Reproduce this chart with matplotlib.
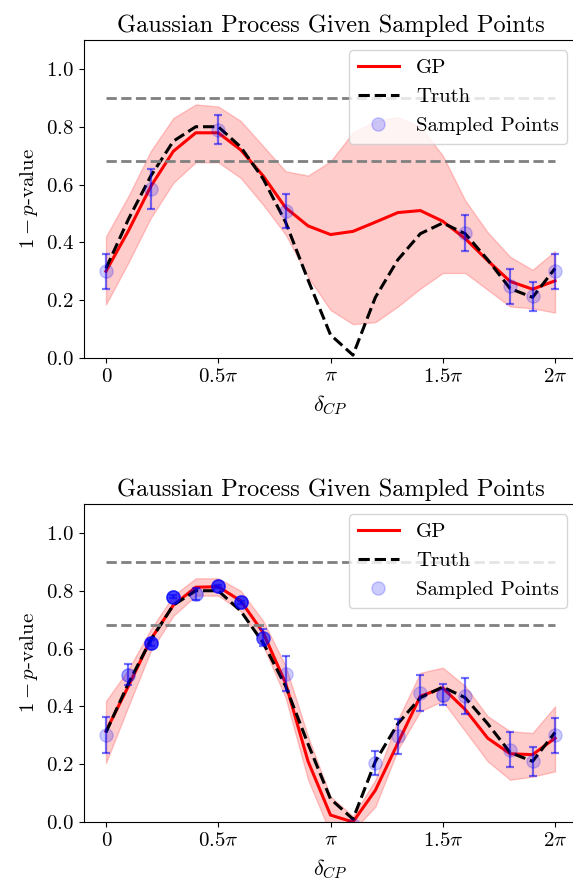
import numpy as np
import matplotlib
matplotlib.use("Agg")
import matplotlib.pyplot as plt

plt.rcParams['font.family'] = 'serif'
plt.rcParams['font.serif'] = ['cmr10']
plt.rcParams['mathtext.fontset'] = 'cm'
plt.rcParams['axes.unicode_minus'] = False
plt.rcParams['axes.formatter.use_mathtext'] = True

# grid of delta_CP in units of pi (0, 0.1, ..., 2.0)
grid = np.arange(21) / 10

truth = [0.31, 0.48, 0.63, 0.75, 0.80, 0.80, 0.73, 0.62, 0.47, 0.27, 0.08,
         0.01, 0.21, 0.34, 0.43, 0.467, 0.43, 0.34, 0.24, 0.21, 0.31]

# top panel: few samples
gp1 = [0.30, 0.44, 0.594, 0.715, 0.779, 0.779, 0.72, 0.63, 0.52, 0.457, 0.427,
       0.438, 0.47, 0.503, 0.51, 0.473, 0.413, 0.337, 0.265, 0.238, 0.267]
up1 = [0.42, 0.56, 0.716, 0.83, 0.877, 0.87, 0.82, 0.733, 0.646, 0.631, 0.68,
       0.78, 0.82, 0.833, 0.80, 0.70, 0.545, 0.435, 0.35, 0.305, 0.37]
lo1 = [0.185, 0.33, 0.485, 0.606, 0.677, 0.677, 0.623, 0.53, 0.427, 0.28, 0.166,
       0.117, 0.124, 0.178, 0.24, 0.294, 0.294, 0.236, 0.178, 0.172, 0.157]
sx1 = [0.0, 0.2, 0.5, 0.8, 1.6, 1.8, 1.9, 2.0]
sy1 = [0.30, 0.585, 0.79, 0.508, 0.433, 0.248, 0.213, 0.30]
se1 = [0.06, 0.07, 0.05, 0.06, 0.062, 0.06, 0.05, 0.06]
sn1 = [1, 1, 1, 1, 1, 1, 1, 1]

# bottom panel: more samples
gp2 = [0.314, 0.47, 0.632, 0.75, 0.812, 0.814, 0.765, 0.655, 0.48, 0.21, 0.024,
       0.0, 0.11, 0.273, 0.435, 0.464, 0.389, 0.29, 0.236, 0.233, 0.29]
up2 = [0.418, 0.528, 0.667, 0.783, 0.843, 0.843, 0.80, 0.696, 0.54, 0.296, 0.088,
       0.02, 0.146, 0.354, 0.516, 0.534, 0.47, 0.366, 0.314, 0.308, 0.40]
lo2 = [0.204, 0.40, 0.592, 0.713, 0.783, 0.783, 0.73, 0.61, 0.43, 0.146, -0.04,
       -0.03, 0.053, 0.25, 0.383, 0.418, 0.314, 0.21, 0.146, 0.157, 0.175]
sx2 = [0.0, 0.1, 0.2, 0.3, 0.4, 0.5, 0.6, 0.7, 0.8, 1.1, 1.2, 1.3, 1.4, 1.5, 1.6, 1.8, 1.9, 2.0]
sy2 = [0.302, 0.51, 0.62, 0.78, 0.789, 0.815, 0.76, 0.638, 0.513, -0.01, 0.204,
       0.296, 0.447, 0.441, 0.435, 0.25, 0.21, 0.30]
se2 = [0.062, 0.035, 0.01, 0.005, 0.02, 0.005, 0.005, 0.03, 0.06, 0.005, 0.04,
       0.06, 0.062, 0.038, 0.062, 0.06, 0.05, 0.06]
sn2 = [1, 2, 6, 6, 2, 6, 6, 4, 1, 1, 1, 1, 1, 2, 1, 1, 1, 1]

tick_pos = [0, 0.5, 1, 1.5, 2]
tick_lab = ["0", r"$0.5\pi$", r"$\pi$", r"$1.5\pi$", r"$2\pi$"]

fig = plt.figure(figsize=(5.73, 8.84), dpi=100)
ax1 = fig.add_axes([83.5/573, 1 - 358/884, 494/573, 318/884])
ax2 = fig.add_axes([83.5/573, 1 - 822/884, 494/573, 318/884])

panels = [(ax1, gp1, up1, lo1, sx1, sy1, se1, sn1),
          (ax2, gp2, up2, lo2, sx2, sy2, se2, sn2)]

for ax, gp, up, lo, sx, sy, se, sn in panels:
    x = grid * np.pi
    ax.fill_between(x, lo, up, color="red", alpha=0.2, lw=1)
    ax.plot(x, gp, color="red", lw=2.2, label="GP")
    ax.plot(x, truth, color="k", ls="--", lw=2.2, label="Truth")
    sxp = np.array(sx) * np.pi
    ax.errorbar(sxp, sy, yerr=se, fmt="none", ecolor="blue", alpha=0.55,
                capsize=3, elinewidth=1.6, capthick=1.6)
    sn = np.array(sn)
    for k in range(sn.max()):
        m = sn > k
        ax.plot(sxp[m], np.array(sy)[m], "o", color="blue", alpha=0.2, ms=9.5,
                label="Sampled Points" if k == 0 else None)
    ax.hlines([0.9, 0.68], 0, 2 * np.pi, colors="gray", linestyles="--", lw=2)
    ax.set_xlim(-0.1 * np.pi, 2.1 * np.pi)
    ax.set_ylim(0, 1.1)
    ax.set_xticks(np.array(tick_pos) * np.pi)
    ax.set_xticklabels(tick_lab)
    ax.set_yticks([0.0, 0.2, 0.4, 0.6, 0.8, 1.0])
    ax.tick_params(labelsize=15)
    ax.set_title("Gaussian Process Given Sampled Points", fontsize=17.5)
    ax.set_xlabel(r"$\delta_{CP}$", fontsize=16, labelpad=6)
    ax.set_ylabel(r"$1-p$-value", fontsize=15)
    ax.legend(loc="upper right", fontsize=15)

fig.savefig("out.png", dpi=100)
